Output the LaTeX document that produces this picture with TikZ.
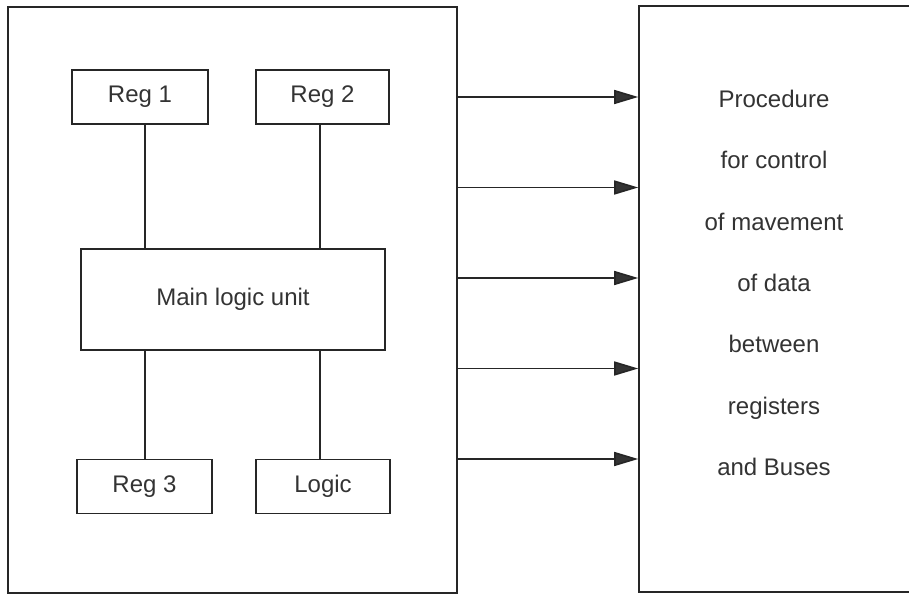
\documentclass[tikz,border=0pt]{standalone}
\usepackage{fontspec}
\setmainfont{Liberation Sans}
\usetikzlibrary{shapes,arrows.meta}

\begin{document}
\begin{tikzpicture}[x=1pt,y=1pt]

\def\arrowsep{90.5}

\tikzstyle{unitBox}=[rectangle,draw=black!85,line width=1.6pt,inner sep=0pt,text=black!80,font=\fontsize{24}{28}\selectfont]
\tikzstyle{regBox}=[unitBox,minimum width=134pt,minimum height=54pt]
\tikzstyle{outerBox}=[rectangle,draw=black!85,line width=1.6pt,minimum height=586pt]
\tikzstyle{link}=[draw=black!85,line width=1.6pt]
\tikzstyle{ctrlArrow}=[link,-{Triangle[length=24pt,width=14pt,fill=black!80]}]

\useasboundingbox (0,0) rectangle (909,595);

%Outer blocks
\node[outerBox,minimum width=449pt] (cpu) at (232.5,295) {};
\node[outerBox,minimum width=321pt] (proc) at (799.5,296) {};

\node[align=center,text=black!80,font=\fontsize{24}{61.3}\selectfont] (procText) at (774,312)
  {Procedure\\for control\\of mavement\\of data\\between\\registers\\and Buses};

%Units inside
\node[regBox,minimum width=136pt] (reg1) at (140,498) {Reg 1};
\node[regBox,minimum width=133pt] (reg2) at (322.5,498) {Reg 2};
\node[unitBox,minimum width=304pt,minimum height=101pt] (main) at (233,295.5) {Main logic unit};
\node[regBox,minimum width=135pt] (reg3) at (144.5,108.5) {Reg 3};
\node[regBox] (logic) at (323,108.5) {Logic};

\coordinate (colA) at (145,0);
\coordinate (colB) at (320,0);

\draw[link] (reg1.south -| colA) -- (main.north -| colA);
\draw[link] (reg2.south -| colB) -- (main.north -| colB);
\draw[link] (main.south -| colA) -- (reg3.north -| colA);
\draw[link] (main.south -| colB) -- (logic.north -| colB);

%control lines
\coordinate (a1) at (0,498);
\coordinate (a2) at (0,498-\arrowsep);
\coordinate (a3) at (0,498-2*\arrowsep);
\coordinate (a4) at (0,498-3*\arrowsep);
\coordinate (a5) at (0,498-4*\arrowsep);

\draw[ctrlArrow] (cpu.east |- a1) -- (proc.west |- a1);
\draw[ctrlArrow] (cpu.east |- a2) -- (proc.west |- a2);
\draw[ctrlArrow] (cpu.east |- a3) -- (proc.west |- a3);
\draw[ctrlArrow] (cpu.east |- a4) -- (proc.west |- a4);
\draw[ctrlArrow] (cpu.east |- a5) -- (proc.west |- a5);

\end{tikzpicture}
\end{document}
